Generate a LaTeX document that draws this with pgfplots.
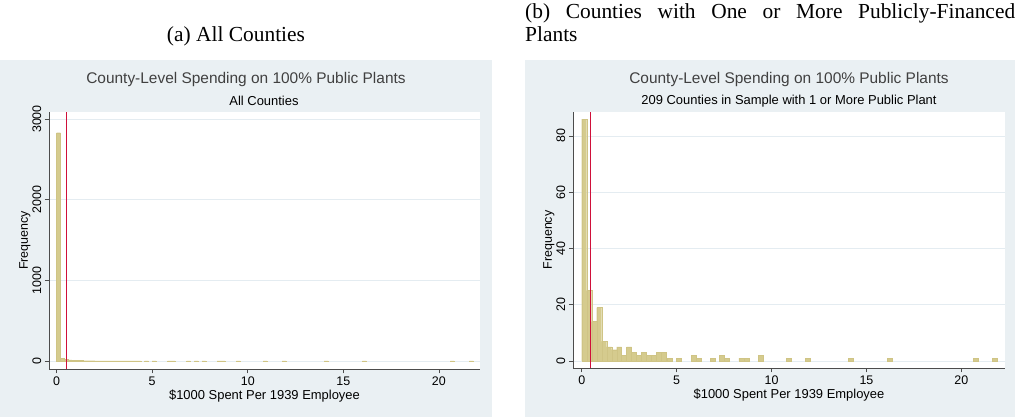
\documentclass[border=0pt]{standalone}
\usepackage{pgfplots}
\pgfplotsset{compat=1.18}
\usepackage{fontspec}
\setmainfont{Liberation Serif}
\newfontfamily\chartfont{Liberation Sans}
\definecolor{panelbg}{HTML}{EAF0F3}
\definecolor{barfill}{HTML}{D5CB8E}
\definecolor{baredge}{HTML}{CFC485}
\definecolor{gridc}{HTML}{E4ECF1}
\definecolor{vred}{HTML}{D0103A}
\pgfplotstableread{
x y
0.13 86
0.393 25
0.656 14
0.919 19
1.182 7
1.445 5
1.708 4
1.971 5
2.234 2
2.497 5
2.76 3
3.023 2
3.286 3
3.549 2
3.812 2
4.075 3
4.338 3
4.64 1
5.13 1
5.92 2
6.18 1
6.92 1
7.38 2
7.64 1
8.41 1
8.67 1
9.43 2
10.92 1
11.92 1
14.18 1
16.22 1
20.75 1
21.75 1
}\pub
\pgfplotstableread{
x y
0.1 2830
0.3 30
0.5 20
0.7 14
0.9 12
1.1 7
1.3 5
1.5 4
1.7 4
1.9 4
2.1 3
2.3 3
2.5 3
2.7 3
2.9 2
3.1 2
3.3 2
3.5 2
3.7 2
3.9 2
4.1 2
4.3 2
4.7 1
5.1 1
5.9 2
6.1 1
6.9 1
7.3 1
7.7 1
8.5 1
8.7 1
9.5 2
10.9 1
11.9 1
14.1 1
16.1 1
20.7 1
21.7 1
}\allc
\pgfplotsset{
  stata/.style={
    scale only axis,
    axis lines*=left,
    tick align=outside,
    tick style={black!70, line width=0.6pt},
    axis line style={black!70, line width=0.6pt},
    ymajorgrids, grid style={gridc, line width=0.8pt},
    xtick={0,5,10,15,20},
    tick label style={font=\chartfont\fontsize{12.5}{13}\selectfont},
    yticklabel style={rotate=90, anchor=south},
    xlabel style={font=\chartfont\fontsize{13}{14}\selectfont, yshift=3pt},
    ylabel style={font=\chartfont\fontsize{12.5}{13}\selectfont, yshift=-5pt},
    xlabel={\$1000 Spent Per 1939 Employee},
    ylabel={Frequency},
    axis background/.style={fill=white},
    /pgf/number format/assume math mode=true,
    /pgf/number format/1000 sep={},
    scaled y ticks=false,
    clip=false,
  }
}
\begin{document}
\begin{tikzpicture}
\useasboundingbox (0,0) rectangle (1015bp,417bp);
\fill[panelbg] (0,0) rectangle (492bp,357bp);
\fill[panelbg] (525bp,0) rectangle (1015bp,357bp);
\node[font=\fontsize{21.5}{23}\selectfont] at (236bp,381bp) {(a) All Counties};
\node[font=\fontsize{21.5}{24}\selectfont, anchor=north west, align=left, inner sep=0pt] at (525bp,414bp) {\makebox[490bp][s]{(b) Counties with One or More Publicly-Financed}\\Plants};
\node[font=\chartfont\fontsize{15.5}{17}\selectfont, text=black!75] at (246bp,337bp) {County-Level Spending on 100\% Public Plants};
\node[font=\chartfont\fontsize{13}{15}\selectfont] at (264bp,316bp) {All Counties};
\node[font=\chartfont\fontsize{15.5}{17}\selectfont, text=black!75] at (789bp,337bp) {County-Level Spending on 100\% Public Plants};
\node[font=\chartfont\fontsize{13}{15}\selectfont] at (789bp,316bp) {209 Counties in Sample with 1 or More Public Plant};
\begin{axis}[stata, at={(49bp,48bp)}, anchor=south west, width=431bp, height=257bp,
  xmin=-0.4, xmax=22.15, ymin=-99, ymax=3087, ytick={0,1000,2000,3000}]
\addplot[ybar, bar width=0.2, bar shift=0pt, fill=barfill, draw=baredge, line width=0.3pt] table[x=x,y=y]{\allc};
\addplot[vred, no marks, line width=0.9pt] coordinates {(0.5,-99) (0.5,3087)};
\end{axis}
\begin{axis}[stata, at={(573bp,49bp)}, anchor=south west, width=432bp, height=256bp,
  xmin=-0.46, xmax=22.3, ymin=-2.5, ymax=88.5, ytick={0,20,40,60,80}]
\addplot[ybar, bar width=0.263, bar shift=0pt, fill=barfill, draw=baredge, line width=0.3pt] table[x=x,y=y]{\pub};
\addplot[vred, no marks, line width=0.9pt] coordinates {(0.48,-2.5) (0.48,88.5)};
\end{axis}
\end{tikzpicture}
\end{document}
